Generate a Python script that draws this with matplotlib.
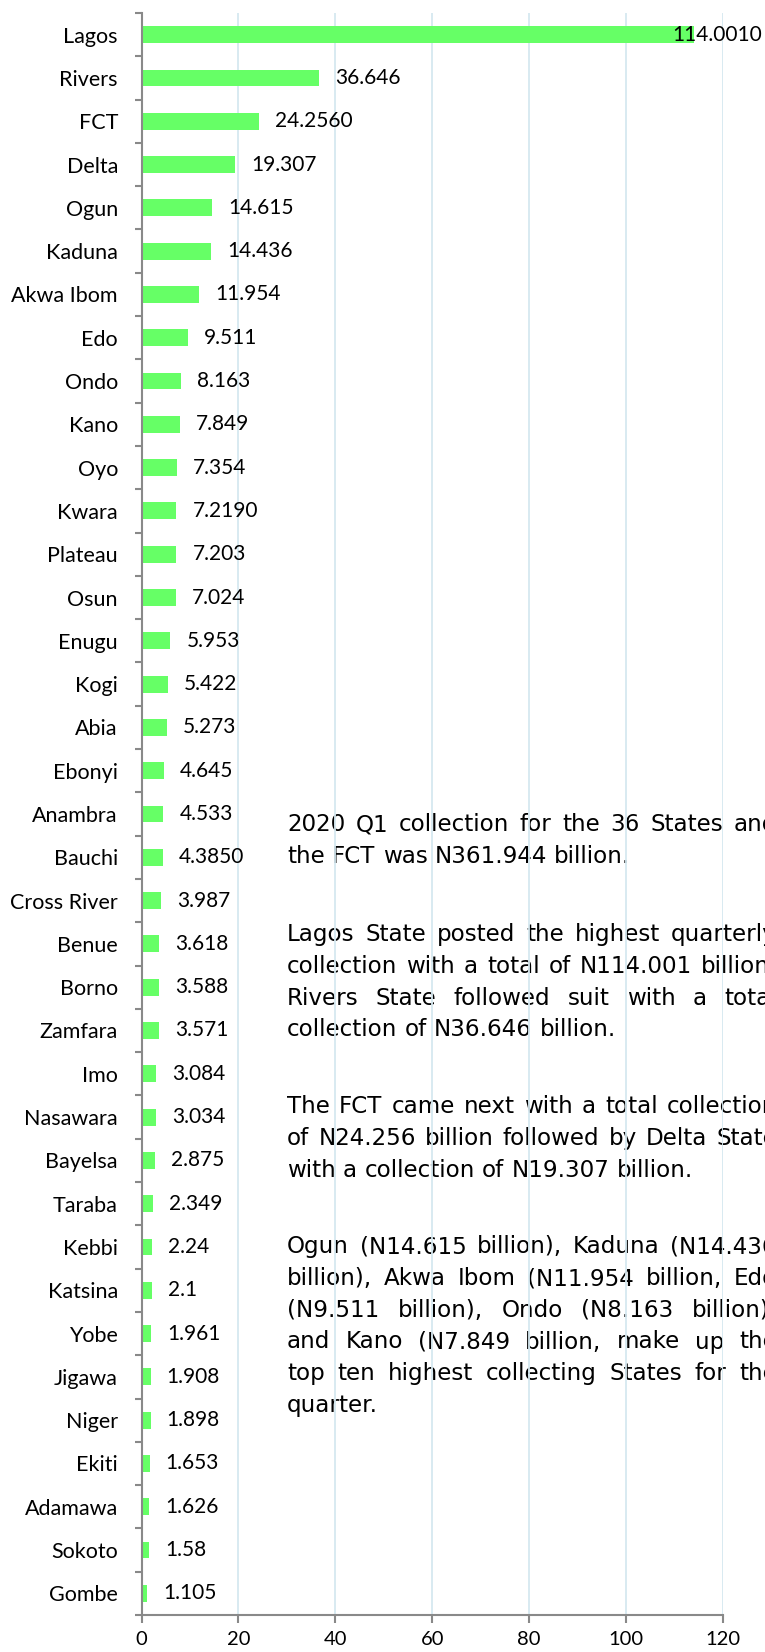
import matplotlib
matplotlib.use("Agg")
import matplotlib.pyplot as plt
from matplotlib.font_manager import FontProperties
from matplotlib.ticker import FixedLocator

'''
2020 Q1 collection by state (N billion), with the summary notes beside the bars
'''

states = ["Lagos", "Rivers", "FCT", "Delta", "Ogun", "Kaduna", "Akwa Ibom", "Edo",
          "Ondo", "Kano", "Oyo", "Kwara", "Plateau", "Osun", "Enugu", "Kogi", "Abia",
          "Ebonyi", "Anambra", "Bauchi", "Cross River", "Benue", "Borno", "Zamfara",
          "Imo", "Nasawara", "Bayelsa", "Taraba", "Kebbi", "Katsina", "Yobe", "Jigawa",
          "Niger", "Ekiti", "Adamawa", "Sokoto", "Gombe"]
collection = [114.001, 36.646, 24.256, 19.307, 14.615, 14.436, 11.954, 9.511,
              8.163, 7.849, 7.354, 7.219, 7.203, 7.024, 5.953, 5.422, 5.273,
              4.645, 4.533, 4.385, 3.987, 3.618, 3.588, 3.571,
              3.084, 3.034, 2.875, 2.349, 2.24, 2.1, 1.961, 1.908,
              1.898, 1.653, 1.626, 1.58, 1.105]
value_labels = ["114.0010", "36.646", "24.2560", "19.307", "14.615", "14.436", "11.954", "9.511",
                "8.163", "7.849", "7.354", "7.2190", "7.203", "7.024", "5.953", "5.422", "5.273",
                "4.645", "4.533", "4.3850", "3.987", "3.618", "3.588", "3.571",
                "3.084", "3.034", "2.875", "2.349", "2.24", "2.1", "1.961", "1.908",
                "1.898", "1.653", "1.626", "1.58", "1.105"]
x_ticks = [0, 20, 40, 60, 80, 100, 120]

notes = [
    ["2020 Q1 collection for the 36 States and",
     "the FCT was N361.944 billion."],
    ["Lagos State posted the highest quarterly",
     "collection with a total of N114.001 billion.",
     "Rivers State followed suit with a total",
     "collection of N36.646 billion."],
    ["The FCT came next with a total collection",
     "of N24.256 billion followed by Delta State",
     "with a collection of N19.307 billion."],
    ["Ogun (N14.615 billion), Kaduna (N14.436",
     "billion), Akwa Ibom (N11.954 billion, Edo",
     "(N9.511 billion), Ondo (N8.163 billion),",
     "and Kano (N7.849 billion, make up the",
     "top ten highest collecting States for the",
     "quarter."],
]

W, H = 765, 1652
BAR = '#66FF66'
GRID = '#D5E8F0'
SPINE = '#898989'
LABEL_FONT = ['Lato', 'DejaVu Sans']


def main():
    fig = plt.figure(figsize=(W / 100, H / 100), dpi=100)
    x0, x1, y_top, y_bot = 141.5, 723, 13, 1615
    ax = fig.add_axes([x0 / W, 1 - y_bot / H, (x1 - x0) / W, (y_bot - y_top) / H])

    pos = list(range(len(states)))
    ax.barh(pos, collection, height=0.39, color=BAR, zorder=2)
    ax.set_xlim(0, 120)
    ax.set_ylim(len(states) - 0.5, -0.5)

    ax.set_axisbelow(True)
    ax.xaxis.grid(True, color=GRID, lw=1.3)
    ax.set_xticks(x_ticks)
    ax.set_xticklabels([str(t) for t in x_ticks], fontsize=14.5, family=LABEL_FONT)
    ax.tick_params(axis='x', length=6, width=1.5, color=SPINE, pad=5.5)

    ax.set_yticks(pos)
    ax.set_yticklabels(states, fontsize=15.5, family=LABEL_FONT)
    ax.yaxis.set_minor_locator(FixedLocator([p - 0.5 for p in pos] + [len(pos) - 0.5]))
    ax.tick_params(axis='y', which='major', length=0, pad=17)
    ax.tick_params(axis='y', which='minor', length=5, width=1.5, color=SPINE)

    for side in ['top', 'right']:
        ax.spines[side].set_visible(False)
    for side in ['left', 'bottom']:
        ax.spines[side].set_color(SPINE)
        ax.spines[side].set_linewidth(1.5)

    renderer = fig.canvas.get_renderer()
    vprop = FontProperties(family=LABEL_FONT, size=15)

    # value labels; the one that would run off the page is pulled back to the edge
    for p, v, lab in zip(pos, collection, value_labels):
        wpx, _, _ = renderer.get_text_width_height_descent(lab, vprop, ismath=False)
        bx, by = ax.transData.transform((v, p))
        if bx + 16 + wpx > W - 3:
            ax.text((W - 3) / W, by / H, lab, transform=fig.transFigure, fontproperties=vprop,
                    ha='right', va='center', zorder=3)
        else:
            ax.annotate(lab, (v, p), xytext=(16 * 0.72, 0), textcoords='offset points',
                        fontproperties=vprop, ha='left', va='center', zorder=3)

    # notes, justified like the source page (they run past the right edge there too)
    nprop = FontProperties(family='DejaVu Sans', size=16.6)
    left, block_w, step = 287, 490, 31.7
    first_line = [823, 933, 1105, 1245]
    sp = (renderer.get_text_width_height_descent("x x", nprop, False)[0]
          - renderer.get_text_width_height_descent("xx", nprop, False)[0])
    for para, y0 in zip(notes, first_line):
        for i, line in enumerate(para):
            words = line.split()
            widths = [renderer.get_text_width_height_descent(w, nprop, False)[0] for w in words]
            if i < len(para) - 1 and len(words) > 1:
                gap = (block_w - sum(widths)) / (len(words) - 1)
            else:
                gap = sp
            x = left
            yb = y0 + i * step + 8.4
            for w, wd in zip(words, widths):
                ax.text(x / W, 1 - yb / H, w, transform=fig.transFigure, fontproperties=nprop,
                        ha='left', va='baseline', zorder=0.2, clip_on=False)
                x += wd + gap

    fig.savefig('out.png', dpi=100)


if __name__ == "__main__":
    main()
